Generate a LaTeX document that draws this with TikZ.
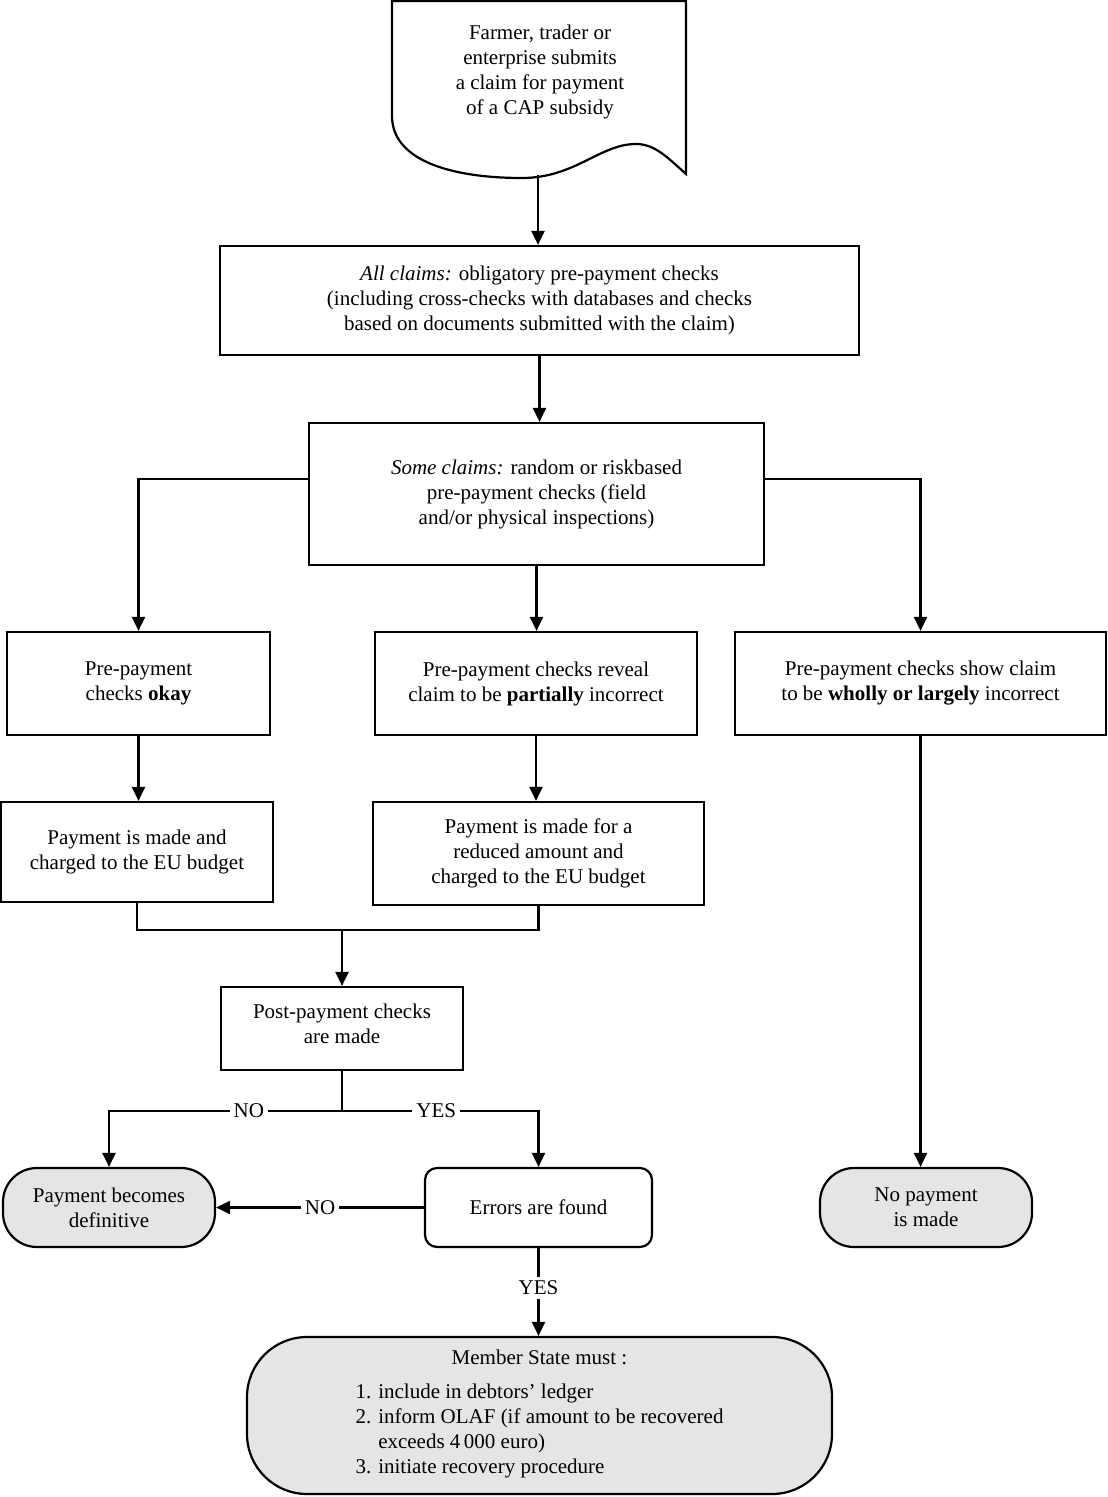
\documentclass[tikz,border=0pt]{standalone}
\usepackage{fontspec}
\setmainfont{Liberation Serif}
\usetikzlibrary{arrows.meta}
\usetikzlibrary{calc}

\begin{document}
\begin{tikzpicture}[x=0.5pt, y=-0.5pt,
    box/.style={draw, line width=1.1pt, align=center, inner sep=2pt, font=\fontsize{10.5}{12.5}\selectfont},
    endbox/.style={box, fill=black!10},
    arr/.style={line width=1.1pt, -{Triangle[length=7pt,width=6.5pt]}},
    con/.style={line width=1.1pt},
    lab/.style={fill=white, inner sep=2pt, font=\fontsize{10.5}{12.5}\selectfont}]
    %\draw[step=50, gray, very thin] (0,0) grid (1107,1497);
    \useasboundingbox (0,0) rectangle (1107,1497);

    % the claim (document shape)
    \draw[line width=1.1pt] (392,1) -- (686,1) -- (686,174)
        .. controls (668,158) and (655,144) .. (636,144)
        .. controls (600,144) and (575,178) .. (522,178)
        .. controls (450,178) and (392,160) .. (392,116) -- cycle;
    \node[align=center, font=\fontsize{10.5}{12.5}\selectfont] (claim) at (540,72)
        {Farmer, trader or\\enterprise submits\\a claim for payment\\of a CAP subsidy};
    \coordinate (wave) at (538,175);

    \begin{scope}
    \node[box, minimum width=319.5pt, minimum height=54.5pt] (allchk) at (539.5,300.5)
        {\textit{All claims:} obligatory pre-payment checks\\(including cross-checks with databases and checks\\based on documents submitted with the claim)};
    \node[box, minimum width=227.5pt, minimum height=71pt] (somechk) at (536.5,494)
        {\textit{Some claims:} random or riskbased\\pre-payment checks (field\\and/or physical inspections)};
    \node[box, minimum width=131.5pt, minimum height=51.5pt] (okay) at (138.5,683.5)
        {Pre-payment\\checks \textbf{okay}};
    \node[box, minimum width=161pt, minimum height=51.5pt] (partial) at (536,683.5)
        {Pre-payment checks reveal\\claim to be \textbf{partially} incorrect};
    \node[box, minimum width=185.5pt, minimum height=51.5pt] (wholly) at (920.5,683.5)
        {Pre-payment checks show claim\\to be \textbf{wholly or largely} incorrect};
    \node[box, minimum width=136pt, minimum height=50pt] (paid) at (137,852)
        {Payment is made and\\charged to the EU budget};
    \node[box, minimum width=165.5pt, minimum height=51.5pt] (reduced) at (538.5,853.5)
        {Payment is made for a\\reduced amount and\\charged to the EU budget};
    \node[box, minimum width=121pt, minimum height=41.5pt] (post) at (342,1028.5)
        {Post-payment checks\\are made\\[-8pt]};
    \node[endbox, rounded corners=17pt, minimum width=106pt, minimum height=39.5pt] (definitive) at (109,1207.5)
        {Payment becomes\\definitive};
    \node[box, rounded corners=6pt, minimum width=113.5pt, minimum height=39.5pt] (errors) at (538.5,1207.5)
        {Errors are found};
    \node[endbox, rounded corners=17pt, minimum width=106pt, minimum height=39.5pt] (nopay) at (926,1207.5)
        {No payment\\is made};
    \node[endbox, rounded corners=30pt, minimum width=292.5pt, minimum height=78.5pt] (member) at (539.5,1415.5)
        {Member State must :\\[7pt]
         \begin{tabular}{@{}l@{}}
         1. include in debtors' ledger\\
         2. inform OLAF (if amount to be recovered\\
         \hphantom{2. }exceeds 4\,000 euro)\\
         3. initiate recovery procedure
         \end{tabular}};
    \end{scope}

    \begin{scope}
    \draw[arr] (wave) -- (wave |- allchk.north);
    \draw[arr] (allchk.south) -- (allchk.south |- somechk.north);
    \draw[arr] ([yshift=7.5pt]somechk.west) -| (okay.north);
    \draw[arr] ([yshift=7.5pt]somechk.east) -| (wholly.north);
    \draw[arr] (somechk.south) -- (somechk.south |- partial.north);
    \draw[arr] (okay.south) -- (okay.south |- paid.north);
    \draw[arr] (partial.south) -- (partial.south |- reduced.north);
    \coordinate (join) at (342,930);
    \draw[con] (paid.south) |- (join) -| (reduced.south);
    \draw[arr] (join) -- (post.north);
    \coordinate (split) at (342,1111);
    \draw[con] (post.south) -- (split);
    \draw[arr] (split) -| node[lab, pos=0.2] (no1) {NO} (definitive.north);
    \draw[arr] (split) -| node[lab, pos=0.24] (yes1) {YES} (errors.north);
    \draw[arr] (errors.west) -- node[lab] (no2) {NO} (definitive.east);
    \draw[arr] (errors.south) -- node[lab, pos=0.45] (yes2) {YES} (errors.south |- member.north);
    \draw[arr] (wholly.south) -- (wholly.south |- nopay.north);
    \end{scope}
\end{tikzpicture}
\end{document}
